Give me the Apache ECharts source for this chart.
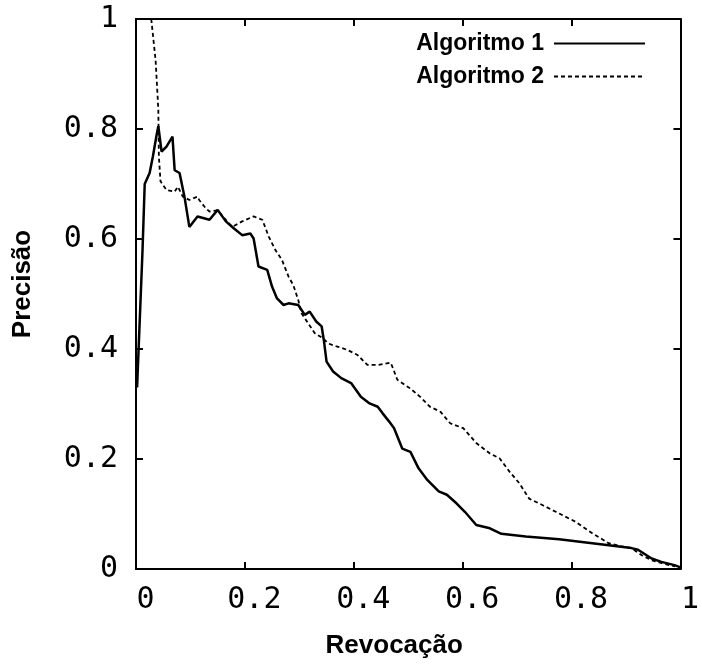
<!DOCTYPE html>
<html>
<head>
<meta charset="utf-8">
<script src="https://cdn.jsdelivr.net/npm/echarts@6/dist/echarts.min.js"></script>
<style>
  html, body { margin: 0; padding: 0; background: #fff; }
  #chart { width: 702px; height: 664px; }
</style>
</head>
<body>
<div id="chart"></div>
<script>
// curve points: [revocacao, precisao]
var alg1 = [
  [0.002, 0.33], [0.012, 0.58], [0.016, 0.70], [0.025, 0.72], [0.031, 0.75],
  [0.038, 0.79], [0.041, 0.805], [0.047, 0.759], [0.056, 0.768], [0.067, 0.786],
  [0.071, 0.725], [0.080, 0.72], [0.089, 0.677], [0.098, 0.622], [0.113, 0.641],
  [0.135, 0.635], [0.150, 0.653], [0.165, 0.632], [0.180, 0.619], [0.195, 0.607],
  [0.210, 0.610], [0.216, 0.601], [0.225, 0.55], [0.241, 0.544], [0.250, 0.513],
  [0.259, 0.492], [0.271, 0.48], [0.280, 0.483], [0.298, 0.48], [0.310, 0.462],
  [0.319, 0.468], [0.331, 0.45], [0.341, 0.441], [0.345, 0.416], [0.350, 0.377],
  [0.362, 0.359], [0.377, 0.347], [0.395, 0.338], [0.413, 0.313], [0.429, 0.301],
  [0.444, 0.295], [0.453, 0.283], [0.465, 0.268], [0.474, 0.256], [0.489, 0.219],
  [0.504, 0.213], [0.519, 0.183], [0.535, 0.162], [0.556, 0.141], [0.571, 0.135],
  [0.589, 0.119], [0.604, 0.104], [0.625, 0.08], [0.650, 0.074], [0.671, 0.064],
  [0.716, 0.059], [0.777, 0.054], [0.838, 0.047], [0.910, 0.038], [0.922, 0.035],
  [0.947, 0.019], [0.965, 0.013], [0.989, 0.007], [1.0, 0.003]
];
var alg2 = [
  [0.028, 1.0], [0.036, 0.925], [0.041, 0.835], [0.042, 0.75], [0.045, 0.705],
  [0.056, 0.689], [0.071, 0.686], [0.077, 0.695], [0.086, 0.677], [0.098, 0.671],
  [0.113, 0.677], [0.116, 0.671], [0.128, 0.656], [0.135, 0.65], [0.150, 0.652],
  [0.171, 0.628], [0.177, 0.622], [0.195, 0.632], [0.216, 0.641], [0.232, 0.635],
  [0.244, 0.604], [0.256, 0.58], [0.268, 0.562], [0.280, 0.532], [0.289, 0.516],
  [0.298, 0.489], [0.304, 0.465], [0.316, 0.447], [0.328, 0.429], [0.344, 0.419],
  [0.353, 0.41], [0.371, 0.404], [0.389, 0.398], [0.407, 0.389], [0.425, 0.371],
  [0.444, 0.371], [0.468, 0.375], [0.480, 0.344], [0.504, 0.328], [0.522, 0.313],
  [0.540, 0.295], [0.559, 0.286], [0.577, 0.265], [0.601, 0.256], [0.625, 0.229],
  [0.650, 0.21], [0.668, 0.201], [0.686, 0.177], [0.704, 0.156], [0.722, 0.128],
  [0.747, 0.116], [0.771, 0.104], [0.807, 0.086], [0.838, 0.065], [0.868, 0.047],
  [0.892, 0.041], [0.910, 0.038], [0.929, 0.025], [0.947, 0.016], [0.971, 0.009],
  [0.990, 0.005]
];
var seriesNames = ['Algoritmo 1', 'Algoritmo 2'];
var xName = 'Revocação';
var yName = 'Precisão';

var chart = echarts.init(document.getElementById('chart'));

var tickFont = { fontFamily: 'DejaVu Sans Mono', fontSize: 30, color: '#000' };
var lineAx = { show: true, onZero: false, lineStyle: { color: '#000', width: 2 } };
var tickAx = { show: true, inside: true, length: 7, lineStyle: { color: '#000', width: 2 } };

var option = {
  animation: false,
  backgroundColor: '#fff',
  grid: { left: 136, top: 19, width: 550, height: 550 },
  legend: {
    orient: 'vertical',
    align: 'right',
    right: 51,
    top: 27,
    itemWidth: 91,
    itemHeight: 14,
    itemGap: 10,
    itemStyle: { opacity: 0 },
    textStyle: { fontFamily: 'Liberation Sans', fontWeight: 'bold', fontSize: 23, color: '#000',
      lineHeight: 22, padding: [0, 5, 0, 0] },
    data: seriesNames
  },
  xAxis: [
    {
      type: 'value', min: 0, max: 1, interval: 0.2, position: 'bottom',
      name: xName, nameLocation: 'middle', nameGap: 64,
      nameTextStyle: { fontFamily: 'Liberation Sans', fontWeight: 'bold', fontSize: 26, color: '#000',
        padding: [0, 28, 0, 0] },
      axisLine: lineAx, axisTick: tickAx, splitLine: { show: false },
      axisLabel: Object.assign({ margin: 16, padding: [0, 0, 0, 19] }, tickFont)
    },
    {
      type: 'value', min: 0, max: 1, interval: 0.2, position: 'top',
      axisLine: lineAx, axisTick: tickAx, splitLine: { show: false },
      axisLabel: { show: false }
    }
  ],
  yAxis: [
    {
      type: 'value', min: 0, max: 1, interval: 0.2, position: 'left',
      name: yName, nameLocation: 'middle', nameGap: 100,
      nameTextStyle: { fontFamily: 'Liberation Sans', fontWeight: 'bold', fontSize: 26, color: '#000',
        padding: [0, 0, 0, 20] },
      axisLine: lineAx, axisTick: tickAx, splitLine: { show: false },
      axisLabel: Object.assign({ margin: 18 }, tickFont)
    },
    {
      type: 'value', min: 0, max: 1, interval: 0.2, position: 'right',
      axisLine: lineAx, axisTick: tickAx, splitLine: { show: false },
      axisLabel: { show: false }
    }
  ],
  series: [
    {
      name: seriesNames[0], type: 'line', data: alg1,
      showSymbol: false, symbol: 'none', clip: true,
      color: '#000',
      lineStyle: { color: '#000', width: 2.5 }
    },
    {
      name: seriesNames[1], type: 'line', data: alg2,
      showSymbol: false, symbol: 'none', clip: true,
      color: '#000',
      lineStyle: { color: '#000', width: 1.8, type: [4, 3] }
    }
  ]
};

chart.setOption(option);
</script>
</body>
</html>
